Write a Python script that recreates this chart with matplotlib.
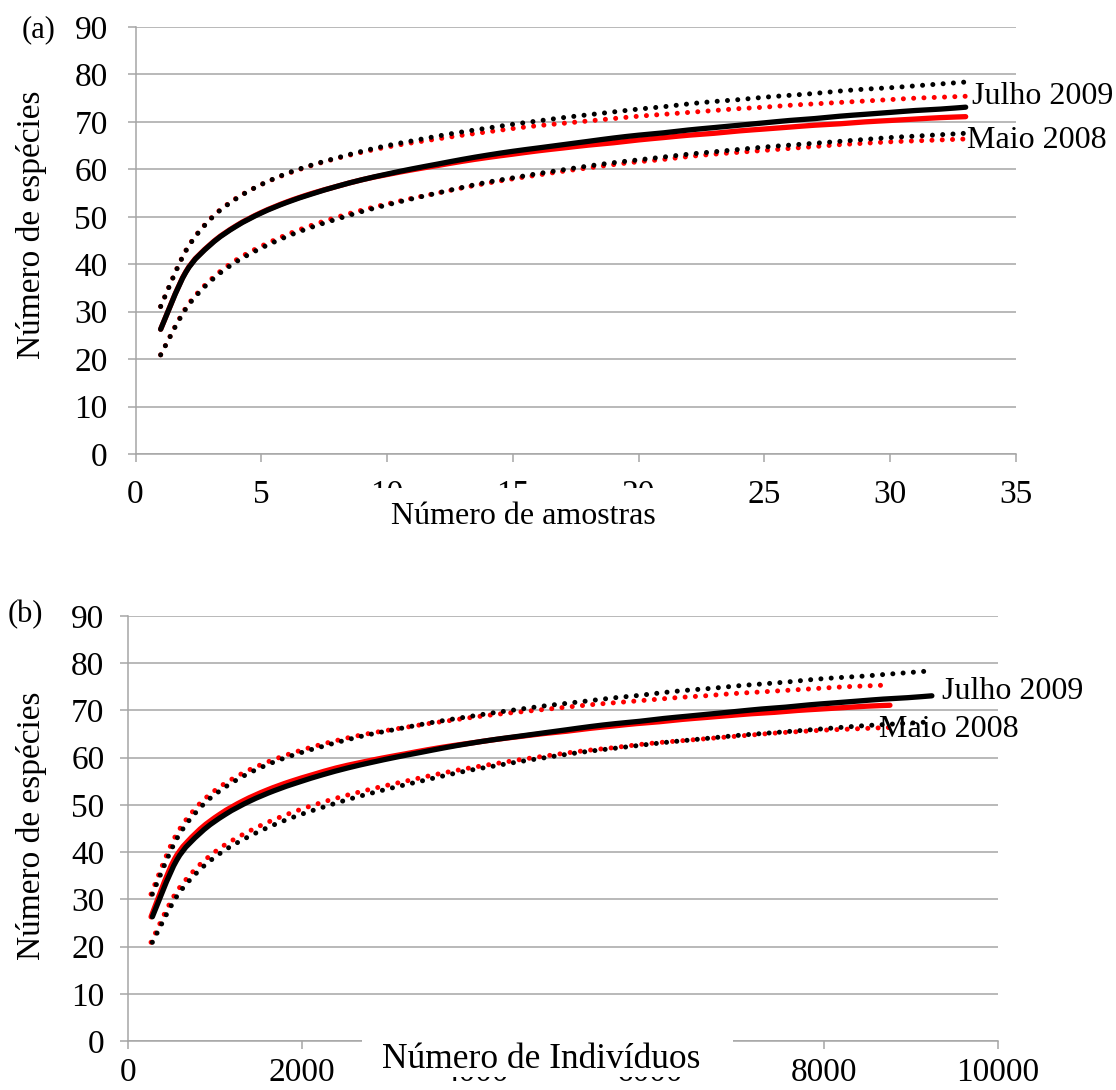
import matplotlib
matplotlib.use("Agg")
import matplotlib.pyplot as plt
from matplotlib.path import Path
from matplotlib.patches import PathPatch, Rectangle

# ---------------------------------------------------------------------------
# Rarefaction curves (observed species richness and 95% confidence bounds)
# ---------------------------------------------------------------------------
samples = list(range(1, 34))

# Julho 2009
jul_obs = [26.3, 38.3, 44.2, 48.0, 50.8, 53.0, 54.8, 56.4, 57.8, 59.0,
           60.1, 61.1, 62.1, 63.0, 63.8, 64.5, 65.2, 65.9, 66.6, 67.2,
           67.7, 68.3, 68.8, 69.3, 69.8, 70.3, 70.7, 71.2, 71.6, 72.0,
           72.4, 72.7, 73.1]
jul_upper = [31.1, 42.8, 49.6, 53.8, 56.8, 59.1, 60.9, 62.4, 63.8, 65.0,
             66.0, 67.0, 67.9, 68.7, 69.5, 70.2, 70.9, 71.5, 72.1, 72.7,
             73.2, 73.8, 74.3, 74.7, 75.2, 75.6, 76.0, 76.5, 76.9, 77.2,
             77.6, 78.0, 78.4]
jul_lower = [20.9, 30.6, 36.5, 40.5, 43.4, 45.8, 47.8, 49.5, 51.1, 52.5,
             53.8, 55.0, 56.2, 57.3, 58.2, 59.1, 59.9, 60.7, 61.4, 62.0,
             62.6, 63.2, 63.7, 64.2, 64.7, 65.1, 65.5, 65.9, 66.3, 66.7,
             67.0, 67.3, 67.6]

# Maio 2008
mai_obs = [26.3, 38.4, 44.3, 48.1, 50.9, 53.1, 54.9, 56.4, 57.8, 58.9,
           59.9, 60.8, 61.7, 62.5, 63.2, 63.9, 64.5, 65.1, 65.6, 66.2,
           66.7, 67.2, 67.6, 68.1, 68.5, 68.9, 69.3, 69.6, 70.0, 70.3,
           70.6, 70.9, 71.1]
mai_upper = [31.1, 42.9, 49.7, 53.9, 56.8, 59.0, 60.8, 62.3, 63.6, 64.7,
             65.6, 66.4, 67.2, 67.9, 68.6, 69.2, 69.7, 70.2, 70.7, 71.2,
             71.6, 72.0, 72.4, 72.8, 73.1, 73.5, 73.8, 74.1, 74.4, 74.7,
             75.0, 75.2, 75.4]
mai_lower = [20.9, 30.8, 36.8, 40.9, 43.8, 46.2, 48.2, 49.9, 51.4, 52.7,
             53.9, 55.0, 56.1, 57.1, 58.0, 58.8, 59.6, 60.3, 61.0, 61.6,
             62.1, 62.7, 63.2, 63.6, 64.0, 64.4, 64.8, 65.2, 65.5, 65.8,
             66.0, 66.2, 66.4]

# Cumulative number of individuals for each sample count
jul_individuals = [280, 560, 840, 1120, 1400, 1680, 1960, 2240, 2520, 2800,
                   3080, 3360, 3640, 3920, 4200, 4480, 4760, 5040, 5320, 5600,
                   5880, 6160, 6440, 6720, 7000, 7280, 7560, 7840, 8120, 8400,
                   8680, 8960, 9240]
mai_individuals = [265, 531, 796, 1062, 1327, 1592, 1858, 2123, 2389, 2654,
                   2919, 3185, 3450, 3716, 3981, 4246, 4512, 4777, 5043, 5308,
                   5573, 5839, 6104, 6370, 6635, 6900, 7166, 7431, 7697, 7962,
                   8227, 8493, 8758]

y_ticks = [0, 10, 20, 30, 40, 50, 60, 70, 80, 90]
xa_ticks = [0, 5, 10, 15, 20, 25, 30, 35]
xb_ticks = [0, 2000, 4000, 6000, 8000, 10000]

label_jul = "Julho 2009"
label_mai = "Maio 2008"

# ---------------------------------------------------------------------------
W, H = 1116, 1090
DPI = 100
SERIF = ["Liberation Serif", "DejaVu Serif"]
plt.rcParams["font.family"] = SERIF
GRID = "#a6a6a6"
RED = "#ff0000"
BLACK = "#000000"
TICK_SIZE = 24


def fx(px):
    return px / W


def fy(py):
    return 1 - py / H


def smooth_path(xs, ys):
    """Smoothed polyline through the points (Catmull-Rom as cubic Beziers)."""
    pts = list(zip(xs, ys))
    n = len(pts)
    verts = [pts[0]]
    codes = [Path.MOVETO]
    for i in range(n - 1):
        p0 = pts[i - 1] if i > 0 else pts[i]
        p1 = pts[i]
        p2 = pts[i + 1]
        p3 = pts[i + 2] if i + 2 < n else pts[i + 1]
        c1 = (p1[0] + (p2[0] - p0[0]) / 6, p1[1] + (p2[1] - p0[1]) / 6)
        c2 = (p2[0] - (p3[0] - p1[0]) / 6, p2[1] - (p3[1] - p1[1]) / 6)
        verts += [c1, c2, p2]
        codes += [Path.CURVE4] * 3
    return Path(verts, codes)


def draw_curve(ax, xs, ys, color, dotted, z):
    patch = PathPatch(smooth_path(xs, ys), fill=False, edgecolor=color,
                      zorder=z)
    if dotted:
        patch.set_linewidth(3.6)
        patch.set_linestyle((0, (0.01, 2.05)))
    else:
        patch.set_linewidth(3.8)
    patch.set_capstyle("round")
    patch.set_joinstyle("round")
    ax.add_patch(patch)


def style_axes(ax, xticks, xlim, xpad, ypad):
    ax.set_ylim(0, 90)
    ax.set_xlim(*xlim)
    ax.set_yticks(y_ticks)
    ax.set_xticks(xticks)
    ax.yaxis.grid(True, color=GRID, linewidth=1.1)
    ax.set_axisbelow(True)
    for side in ("top", "right"):
        ax.spines[side].set_visible(False)
    for side in ("left", "bottom"):
        ax.spines[side].set_color(GRID)
        ax.spines[side].set_linewidth(1.1)
    ax.tick_params(axis="y", direction="out", length=6, width=1.1,
                   color=GRID, pad=ypad, labelsize=TICK_SIZE)
    ax.tick_params(axis="x", direction="out", length=6, width=1.1,
                   color=GRID, pad=xpad, labelsize=TICK_SIZE)


fig = plt.figure(figsize=(W / DPI, H / DPI), dpi=DPI)

# ---------------- (a) sample-based rarefaction ----------------
ax1 = fig.add_axes([fx(135.5), fy(454), fx(1016) - fx(135.5), fy(27) - fy(454)])
style_axes(ax1, xa_ticks, (0, 35), 12, 14)
draw_curve(ax1, samples, mai_upper, RED, True, 3)
draw_curve(ax1, samples, mai_lower, RED, True, 3)
draw_curve(ax1, samples, mai_obs, RED, False, 3)
draw_curve(ax1, samples, jul_upper, BLACK, True, 4)
draw_curve(ax1, samples, jul_lower, BLACK, True, 4)
draw_curve(ax1, samples, jul_obs, BLACK, False, 4)
ax1.text(33.27, 75.3, label_jul, fontsize=23, ha="left", va="center",
         clip_on=False)
ax1.text(33.07, 66.0, label_mai, fontsize=23, ha="left", va="center",
         clip_on=False)

# ---------------- (b) individual-based rarefaction ----------------
ax2 = fig.add_axes([fx(128), fy(1041), fx(998) - fx(128), fy(616) - fy(1041)])
style_axes(ax2, xb_ticks, (0, 10000), 6, 11)
draw_curve(ax2, mai_individuals, mai_upper, RED, True, 3)
draw_curve(ax2, mai_individuals, mai_lower, RED, True, 3)
draw_curve(ax2, mai_individuals, mai_obs, RED, False, 3)
draw_curve(ax2, jul_individuals, jul_upper, BLACK, True, 4)
draw_curve(ax2, jul_individuals, jul_lower, BLACK, True, 4)
draw_curve(ax2, jul_individuals, jul_obs, BLACK, False, 4)
ax2.text(9354, 74.0, label_jul, fontsize=23, ha="left", va="center",
         clip_on=False, zorder=6)
ax2.text(8634, 65.9, label_mai, fontsize=23, ha="left", va="center",
         clip_on=False, zorder=6)

# ---------------- axis titles and panel letters ----------------
for py in (225, 826):
    fig.text(fx(32), fy(py), "Número de espécies", rotation=90,
             fontsize=24, ha="center", va="center")

# x-axis titles sit on white boxes over the tick labels
fig.add_artist(Rectangle((fx(360), fy(545)), fx(690) - fx(360),
                         fy(488) - fy(545), transform=fig.transFigure,
                         facecolor="white", edgecolor="none", zorder=5))
fig.text(fx(523), fy(516), "Número de amostras", fontsize=23,
         ha="center", va="center", zorder=6)

fig.add_artist(Rectangle((fx(362), fy(1077)), fx(733) - fx(362),
                         fy(1030) - fy(1077), transform=fig.transFigure,
                         facecolor="white", edgecolor="none", zorder=5))
fig.text(fx(541), fy(1059), "Número de Indivíduos", fontsize=25.5,
         ha="center", va="center", zorder=6)

fig.text(fx(39), fy(29.5), "(a)", fontsize=22, ha="center", va="center")
fig.text(fx(25.5), fy(615), "(b)", fontsize=22, ha="center", va="center")

fig.savefig("out.png", dpi=DPI)
